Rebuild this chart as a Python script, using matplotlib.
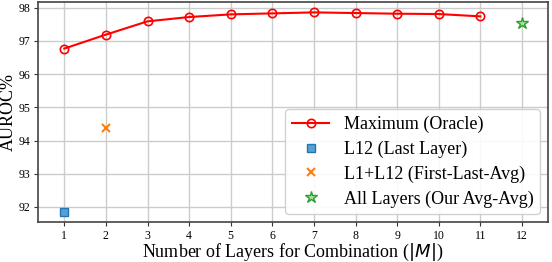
import numpy as np
import matplotlib.pyplot as plt

plt.rcParams['font.family'] = ['Liberation Serif', 'DejaVu Serif']
plt.rcParams['mathtext.fontset'] = 'dejavusans'

layers = [1, 2, 3, 4, 5, 6, 7, 8, 9, 10, 11]
oracle = [96.77, 97.19, 97.59, 97.72, 97.80, 97.83, 97.86, 97.84, 97.82, 97.81, 97.74]
last_x, last_y = [1], [91.84]
fl_x, fl_y = [2], [94.39]
all_x, all_y = [12], [97.54]

fig, ax = plt.subplots(figsize=(5.52, 2.62), dpi=100)
ax.grid(True, color='#cccccc', linewidth=1.0, zorder=0)
ax.set_axisbelow(True)

ax.plot(layers, oracle, color='red', marker='o', markersize=6, mfc='none', mew=1.2,
        linewidth=1.5, label='Maximum (Oracle)')
ax.plot(last_x, last_y, linestyle='none', marker='s', markersize=6, color='#1f77b4',
        mfc='#5a9fd4', label='L12 (Last Layer)')
ax.plot(fl_x, fl_y, linestyle='none', marker='x', markersize=6, mew=1.5, color='#ff7f0e',
        label='L1+L12 (First-Last-Avg)')
ax.plot(all_x, all_y, linestyle='none', marker='*', markersize=9, color='#2ca02c',
        mfc='#a8dca8', label='All Layers (Our Avg-Avg)')

ax.set_xticks(range(1, 13))
ax.set_yticks([92, 93, 94, 95, 96, 97, 98])
ax.tick_params(labelsize=8.5, color='#333333', length=3, pad=2.5)
ax.set_xlim(0.37, 12.63)
ax.set_ylim(91.54, 98.17)
for s in ax.spines.values():
    s.set_color('#444444')
    s.set_linewidth(1.2)

ax.set_xlabel('Number of Layers for Combination ($|M|$)', fontsize=13, labelpad=0)
ax.set_ylabel('AUROC%', fontsize=13, labelpad=1)
ax.legend(loc='lower right', fontsize=13, handlelength=2.1, framealpha=0.9,
          borderpad=0.35, labelspacing=0.42, borderaxespad=0.45)

fig.subplots_adjust(left=0.069, right=0.993, top=0.992, bottom=0.152)
fig.savefig('out.png', dpi=100)
